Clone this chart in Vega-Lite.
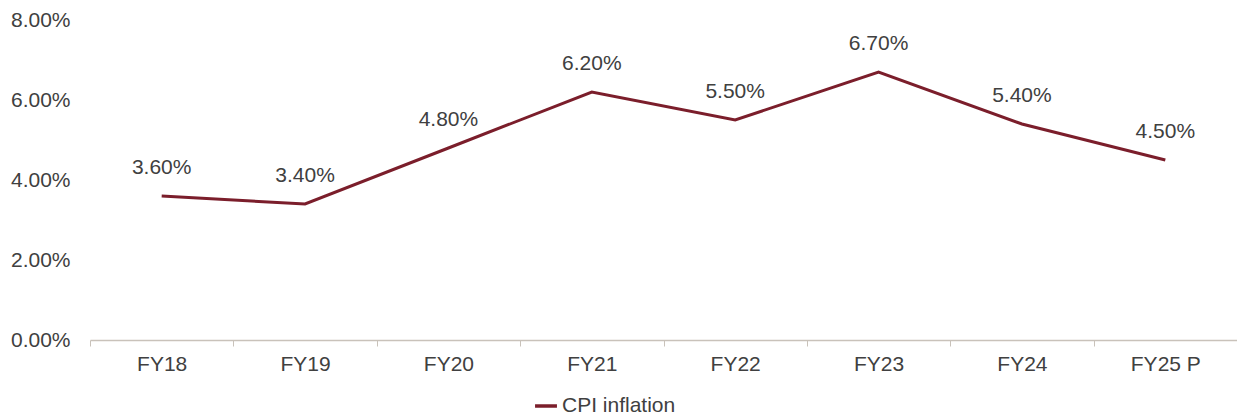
{
  "$schema": "https://vega.github.io/schema/vega-lite/v6.json",
  "width": 1147,
  "height": 320,
  "autosize": {"type": "none"},
  "padding": {"left": 90, "top": 20, "right": 0, "bottom": 78},
  "background": "white",
  "config": {
    "view": {"stroke": null},
    "font": "Liberation Sans",
    "axis": {"labelFont": "Liberation Sans", "labelColor": "#404040", "labelFontSize": 21, "title": null, "grid": false}
  },
  "data": {
    "values": [
      {"year": "FY18", "value": 0.036, "series": "CPI inflation"},
      {"year": "FY19", "value": 0.034, "series": "CPI inflation"},
      {"year": "FY20", "value": 0.048, "series": "CPI inflation"},
      {"year": "FY21", "value": 0.062, "series": "CPI inflation"},
      {"year": "FY22", "value": 0.055, "series": "CPI inflation"},
      {"year": "FY23", "value": 0.067, "series": "CPI inflation"},
      {"year": "FY24", "value": 0.054, "series": "CPI inflation"},
      {"year": "FY25 P", "value": 0.045, "series": "CPI inflation"}
    ]
  },
  "encoding": {
    "x": {
      "field": "year", "type": "nominal", "sort": null,
      "scale": {"type": "band", "paddingInner": 0, "paddingOuter": 0},
      "axis": {"labelAngle": 0, "tickBand": "extent", "domainColor": "#c9c2ba", "domainWidth": 1.5, "tickColor": "#c9c2ba", "tickSize": 6, "labelPadding": 7}
    },
    "y": {
      "field": "value", "type": "quantitative",
      "scale": {"domain": [0, 0.08]},
      "axis": {"values": [0, 0.02, 0.04, 0.06, 0.08], "domain": false, "ticks": false, "labelPadding": 20, "format": ".2%"}
    }
  },
  "layer": [
    {
      "mark": {"type": "line", "strokeWidth": 3},
      "encoding": {
        "color": {
          "field": "series", "type": "nominal",
          "scale": {"range": ["#7b1e2b"]},
          "legend": {"title": null, "orient": "none", "legendX": 443, "legendY": 373, "symbolType": "stroke", "symbolSize": 480, "symbolStrokeWidth": 3.5, "labelFontSize": 21, "labelColor": "#404040", "labelFont": "Liberation Sans", "labelOffset": 3}
        }
      }
    },
    {
      "mark": {"type": "text", "dy": -28, "fontSize": 21, "color": "#404040", "font": "Liberation Sans"},
      "encoding": {"text": {"field": "value", "type": "quantitative", "format": ".2%"}}
    }
  ]
}
